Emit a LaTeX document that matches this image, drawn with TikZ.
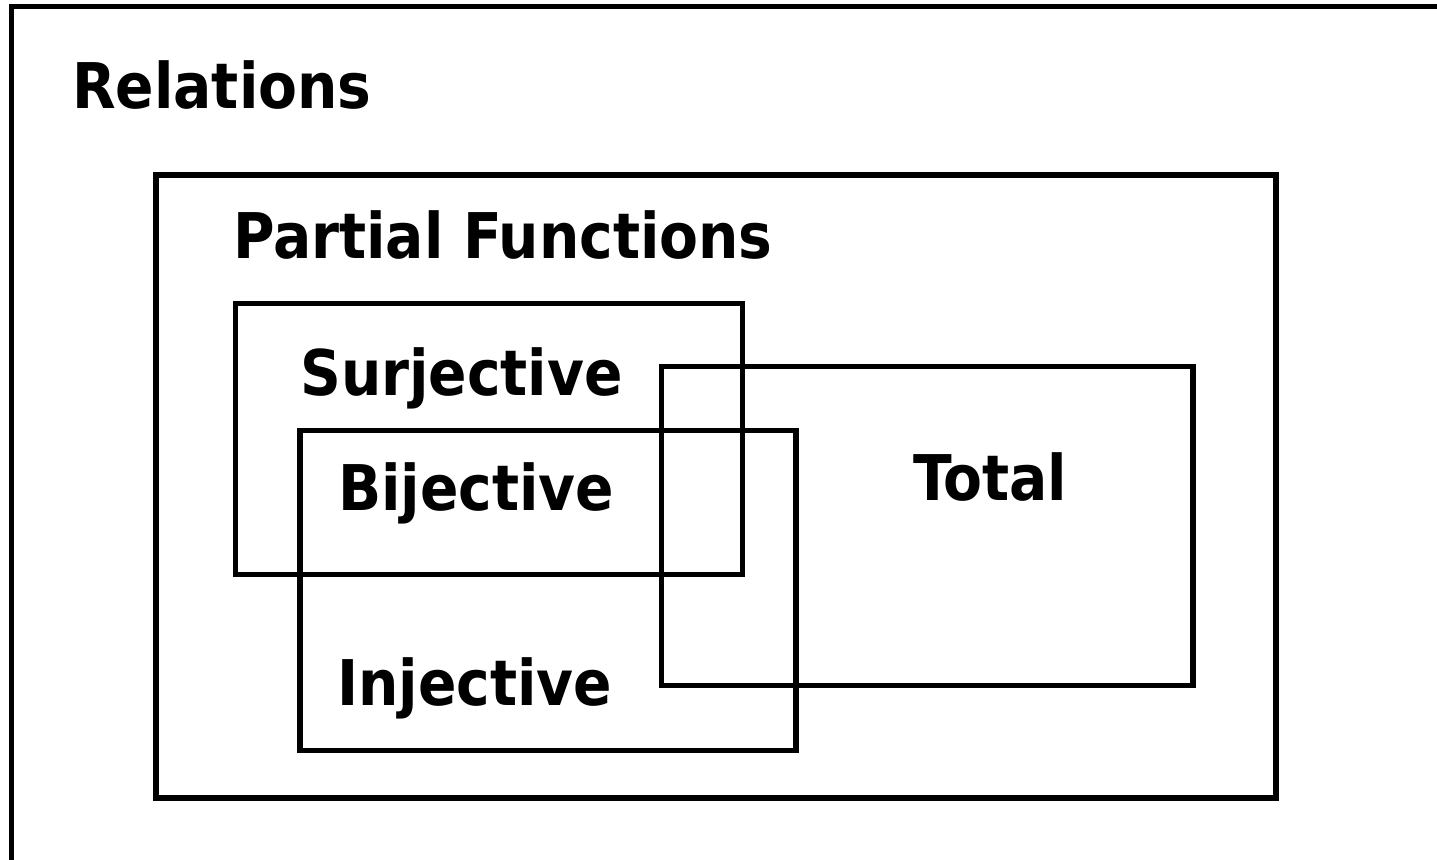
\documentclass[tikz,border=0pt]{standalone}
\usepackage{fontspec}
\newfontfamily\vennfont{DejaVu Sans Condensed}
\usetikzlibrary{positioning}

\begin{document}
\begin{tikzpicture}[x=1pt, y=-1pt,
    setbox/.style={line width=5.3pt, line join=miter},
    setlabel/.style={font=\vennfont\bfseries\fontsize{63}{70}\selectfont, anchor=base west, inner sep=0pt}]
  \useasboundingbox (0,0) rectangle (1437,859);
  \clip (0,0) rectangle (1437,859);

  % Relations (outer frame, runs off the page)
  \draw[setbox] (11.7,1200) -- (11.7,6.7) -- (1600,6.7);
  \node[setlabel] (rel) at (72,108) {Relations};

  % Partial functions
  \draw[setbox] (156,175) rectangle (1276,798);
  \node[setlabel] (pf) at (233,258) {Partial Functions};

  % Surjective
  \draw[setbox] (235.5,303.5) rectangle (742.5,574.5);
  \node[setlabel] (sur) at (300,395) {Surjective};

  % Injective
  \draw[setbox] (300,430.5) rectangle (796,750.5);
  \node[setlabel] (inj) at (337,705) {Injective};

  % Bijective = surjective and injective
  \node[setlabel] (bij) at (338,510) {Bijective};

  % Total
  \draw[setbox] (661.5,366.5) rectangle (1193,685.5);
  \node[setlabel] (tot) at (913,500) {Total};
\end{tikzpicture}
\end{document}
